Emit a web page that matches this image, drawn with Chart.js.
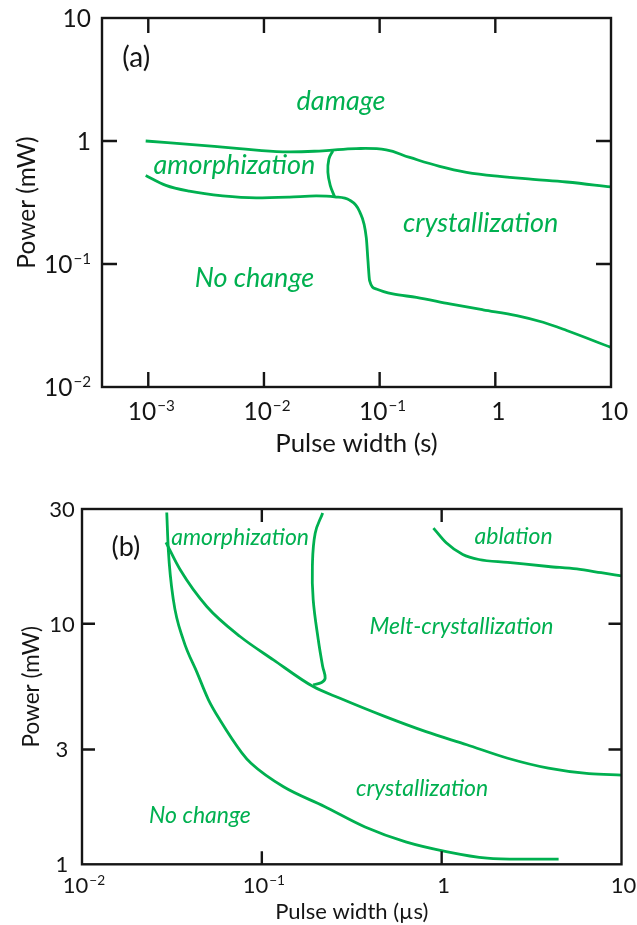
<!DOCTYPE html>
<html><head><meta charset="utf-8">
<script src="https://cdn.jsdelivr.net/npm/chart.js@4.4.1/dist/chart.umd.min.js"></script>
<style>
html,body{margin:0;padding:0;background:#fff;}
#wrap{position:relative;width:637px;height:925px;overflow:hidden;}
#ca{position:absolute;left:0;top:0;}
#cb{position:absolute;left:0;top:460px;}
</style></head><body>
<div id="wrap"><canvas id="ca" width="637" height="460"></canvas><canvas id="cb" width="637" height="465"></canvas></div>
<script>
// ===== Panel (a): Pulse width (s) vs Power (mW) =====
const aDamageX = [0.00095, 0.00226, 0.00614, 0.0146, 0.0323, 0.0628, 0.114, 0.182, 0.33, 0.563, 1.09, 2.12, 4.13, 10];
const aDamageY = [1.00, 0.94, 0.867, 0.817, 0.832, 0.868, 0.847, 0.735, 0.622, 0.557, 0.515, 0.488, 0.464, 0.423];
const aLowerX = [0.00095, 0.00142, 0.00226, 0.0044, 0.00855, 0.0166, 0.0283, 0.0408, 0.055, 0.0671, 0.0767, 0.0793, 0.0819, 0.0936, 0.130, 0.208, 0.404, 0.784, 1.53, 2.59, 4.14, 10];
const aLowerY = [0.525, 0.436, 0.391, 0.358, 0.345, 0.35, 0.358, 0.352, 0.331, 0.267, 0.163, 0.106, 0.0733, 0.0627, 0.0571, 0.0536, 0.0474, 0.0424, 0.0381, 0.0336, 0.0288, 0.021];
const aConnX = [0.0394, 0.0364, 0.0357, 0.0374, 0.0408];
const aConnY = [0.832, 0.713, 0.557, 0.436, 0.352];
const aXTicks = [0.001, 0.01, 0.1, 1, 10];
const aXTickLabels = ['10^−3', '10^−2', '10^−1', '1', '10'];
const aYTicks = [0.01, 0.1, 1, 10];
const aYTickLabels = ['10^−2', '10^−1', '1', '10'];
const aRegionText = ['damage', 'amorphization', 'crystallization', 'No change'];
const aRegionX = [0.0463, 0.00556, 0.746, 0.00826];
const aRegionY = [2.12, 0.634, 0.214, 0.076];

// ===== Panel (b): Pulse width (µs) vs Power (mW) =====
const bNoChangeX = [0.0296, 0.0302, 0.0322, 0.0366, 0.0437, 0.0505, 0.0585, 0.0776, 0.0871, 0.132, 0.223, 0.375, 0.631, 1.06, 1.79, 2.72, 4.47];
const bNoChangeY = [29.0, 20.3, 12.6, 8.57, 6.25, 4.83, 3.98, 2.90, 2.63, 2.10, 1.74, 1.43, 1.24, 1.13, 1.06, 1.05, 1.05];
const bMeltX = [0.0293, 0.0351, 0.0494, 0.0757, 0.116, 0.193, 0.272, 0.486, 0.818, 1.38, 2.33, 3.92, 6.59, 10];
const bMeltY = [21.8, 16.8, 11.8, 8.85, 7.08, 5.48, 4.90, 4.11, 3.56, 3.14, 2.76, 2.51, 2.38, 2.35];
const bAmorphX = [0.218, 0.198, 0.191, 0.193, 0.206, 0.218, 0.225, 0.215, 0.193];
const bAmorphY = [28.9, 23.8, 17.3, 12.6, 8.58, 6.64, 5.94, 5.70, 5.57];
const bAblationX = [0.90, 1.06, 1.31, 1.61, 2.33, 3.92, 5.64, 7.71, 10];
const bAblationY = [25.0, 21.7, 19.4, 18.5, 18.0, 17.3, 16.9, 16.3, 15.8];
const bXTicks = [0.01, 0.1, 1, 10];
const bXTickLabels = ['10^−2', '10^−1', '1', '10'];
const bYTicks = [1, 3, 10, 30];
const bYTickLabels = ['1', '3', '10', '30'];
const bRegionText = ['amorphization', 'ablation', 'Melt-crystallization', 'crystallization', 'No change'];
const bRegionX = [0.0757, 2.51, 1.29, 0.778, 0.0453];
const bRegionY = [22.8, 23.1, 9.75, 2.07, 1.60];

const GREEN = '#00b050';
const INK = '#151515';

function pts(xs, ys) { return xs.map((x, i) => ({x: x, y: ys[i]})); }
function curve(xs, ys, mono) {
  const d = {data: pts(xs, ys), showLine: true, borderColor: GREEN, borderWidth: 2.8,
          pointRadius: 0, pointHoverRadius: 0, fill: false, tension: 0.4};
  if (mono) d.cubicInterpolationMode = 'monotone';
  return d;
}

function drawTickLabel(ctx, label, x, y, size, align) {
  const parts = label.split('^');
  const base = parts[0], exp = parts[1] || '';
  const esize = size * 0.62;
  ctx.font = size + 'px Lato';
  const bw = ctx.measureText(base).width;
  ctx.font = esize + 'px Lato';
  const ew = exp ? ctx.measureText(exp).width + 1 : 0;
  const tw = bw + ew;
  let x0 = align === 'right' ? x - tw : (align === 'center' ? x - tw / 2 : x);
  ctx.textAlign = 'left';
  ctx.textBaseline = 'alphabetic';
  ctx.fillStyle = INK;
  ctx.font = size + 'px Lato';
  ctx.fillText(base, x0, y);
  if (exp) {
    ctx.font = esize + 'px Lato';
    ctx.fillText(exp, x0 + bw + 1, y - size * 0.36);
  }
}

function panelPlugin(cfg) {
  return {
    id: 'panel' + cfg.tag,
    afterDatasetsDraw(chart) {
      const {ctx, chartArea: a} = chart;
      const sx = chart.scales.x, sy = chart.scales.y;
      ctx.save();
      // region labels
      ctx.fillStyle = GREEN;
      ctx.font = 'italic ' + cfg.regionSize + 'px Lato';
      ctx.textAlign = 'center';
      ctx.textBaseline = 'middle';
      cfg.regionText.forEach((t, i) => {
        ctx.fillText(t, sx.getPixelForValue(cfg.regionX[i]), sy.getPixelForValue(cfg.regionY[i]));
      });
      // panel tag
      ctx.fillStyle = INK;
      ctx.font = cfg.tagSize + 'px Lato';
      ctx.fillText('(' + cfg.tag + ')', sx.getPixelForValue(cfg.tagX), sy.getPixelForValue(cfg.tagY));
      // frame
      ctx.strokeStyle = INK;
      ctx.lineWidth = 2.4;
      ctx.strokeRect(a.left, a.top, a.right - a.left, a.bottom - a.top);
      // inward ticks
      ctx.beginPath();
      cfg.xTicks.forEach(v => {
        const p = sx.getPixelForValue(v);
        if (p > a.left + 2 && p < a.right - 2) {
          ctx.moveTo(p, a.bottom); ctx.lineTo(p, a.bottom - cfg.tickLen);
          ctx.moveTo(p, a.top); ctx.lineTo(p, a.top + cfg.tickLen);
        }
      });
      cfg.yTicks.forEach(v => {
        const p = sy.getPixelForValue(v);
        if (p > a.top + 2 && p < a.bottom - 2) {
          ctx.moveTo(a.left, p); ctx.lineTo(a.left + cfg.tickLen, p);
          ctx.moveTo(a.right, p); ctx.lineTo(a.right - cfg.tickLen, p);
        }
      });
      ctx.stroke();
      // tick labels
      cfg.xTicks.forEach((v, i) => {
        const p = sx.getPixelForValue(v);
        drawTickLabel(ctx, cfg.xLabels[i], p + cfg.xLabelDx, a.bottom + cfg.xLabelDy, cfg.tickSize, 'center');
      });
      cfg.yTicks.forEach((v, i) => {
        const p = sy.getPixelForValue(v);
        drawTickLabel(ctx, cfg.yLabels[i], cfg.yLabelX, p + cfg.tickSize * 0.36, cfg.tickSize, cfg.yAlign);
      });
      ctx.restore();
    }
  };
}

function makeChart(id, datasets, opt, plugin) {
  return new Chart(document.getElementById(id), {
    type: 'scatter',
    data: {datasets: datasets},
    options: {
      responsive: false, animation: false, events: [],
      layout: {padding: opt.padding},
      plugins: {legend: {display: false}, tooltip: {enabled: false}},
      scales: {
        x: {type: 'logarithmic', min: opt.xMin, max: opt.xMax,
            grid: {display: false}, border: {display: false}, ticks: {display: false},
            afterFit: s => { s.height = opt.xHeight; },
            title: {display: true, text: opt.xTitle, color: INK,
                    font: {family: 'Lato', size: opt.titleSize}, padding: {top: 0, bottom: opt.xTitlePad}}},
        y: {type: 'logarithmic', min: opt.yMin, max: opt.yMax,
            grid: {display: false}, border: {display: false}, ticks: {display: false},
            afterFit: s => { s.width = opt.yWidth; },
            title: {display: true, text: opt.yTitle, color: INK,
                    font: {family: 'Lato', size: opt.yTitleSize}, padding: {top: opt.yTitlePad, bottom: 0}}}
      }
    },
    plugins: [plugin]
  });
}

makeChart('ca',
  [curve(aDamageX, aDamageY, false), curve(aLowerX, aLowerY, true), curve(aConnX, aConnY, false)],
  {padding: {left: 0, top: 18, right: 26, bottom: 0}, xMin: Math.pow(10, -3.4), xMax: 10, yMin: 0.01, yMax: 10,
   xHeight: 73, yWidth: 102, xTitle: 'Pulse width (s)', yTitle: 'Power (mW)', titleSize: 25.8, yTitleSize: 24.5,
   xTitlePad: 1, yTitlePad: 12},
  panelPlugin({tag: 'a', tagX: 0.000787, tagY: 4.71, tagSize: 28, regionSize: 27,
    regionText: aRegionText, regionX: aRegionX, regionY: aRegionY,
    xTicks: aXTicks, xLabels: aXTickLabels, yTicks: aYTicks, yLabels: aYTickLabels,
    tickLen: 15, tickSize: 24.5, xLabelDx: 3, xLabelDy: 33, yLabelX: 91, yAlign: 'right'}));

makeChart('cb',
  [curve(bNoChangeX, bNoChangeY, true), curve(bMeltX, bMeltY, true), curve(bAmorphX, bAmorphY, false), curve(bAblationX, bAblationY, true)],
  {padding: {left: 0, top: 49, right: 15.5, bottom: 0}, xMin: 0.01, xMax: 10, yMin: 1, yMax: 30,
   xHeight: 60.7, yWidth: 82, xTitle: 'Pulse width (µs)', yTitle: 'Power (mW)', titleSize: 22, yTitleSize: 22.5,
   xTitlePad: 0, yTitlePad: 18},
  panelPlugin({tag: 'b', tagX: 0.01754, tagY: 20.7, tagSize: 27, regionSize: 23,
    regionText: bRegionText, regionX: bRegionX, regionY: bRegionY,
    xTicks: bXTicks, xLabels: bXTickLabels, yTicks: bYTicks, yLabels: bYTickLabels,
    tickLen: 13, tickSize: 22, xLabelDx: 2, xLabelDy: 29, yLabelX: 62, yAlign: 'center'}));
</script>
</body></html>
